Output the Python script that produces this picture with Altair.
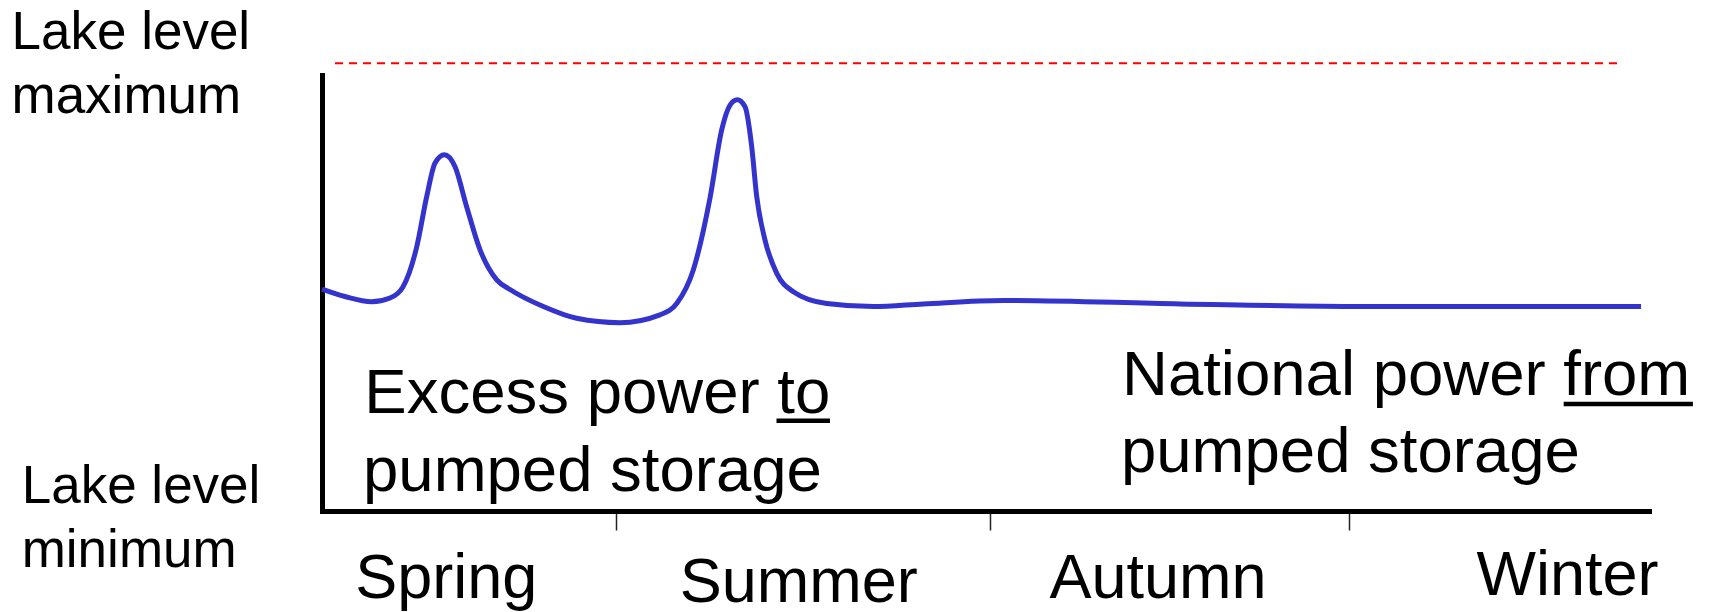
import altair as alt
import pandas as pd

# Lake level curve (x: share of the year in %, y: lake level in % between minimum and maximum)
curve_x = [0.0, 1.73, 3.75, 5.12, 6.10, 7.14, 7.89, 8.52, 9.22, 10.02, 10.90, 11.91,
           13.17, 14.17, 16.68, 19.19, 22.46, 25.47, 26.73, 27.98, 29.24, 30.12, 30.75,
           31.30, 31.88, 32.38, 32.76, 33.38, 34.27, 35.52, 38.03, 41.55, 45.31, 51.32,
           64.66, 78.45, 99.4]
curve_y = [50.9, 49.2, 48.0, 48.85, 51.4, 60.6, 72.1, 79.8, 81.7, 79.0, 69.8, 59.9,
           53.0, 50.8, 46.9, 44.2, 43.2, 45.0, 47.6, 55.3, 71.8, 87.4, 93.1,
           94.3, 92.7, 83.6, 72.1, 62.2, 54.5, 50.3, 47.6, 46.9, 47.5, 48.3,
           47.5, 46.9, 46.9]

# Season boundaries (axis ticks) and season names
tick_values = [22.12, 50.34, 77.43]
season_names = ["Spring", "Summer", "Autumn", "Winter"]
season_x = [9.37, 35.93, 63.0, 93.86]
season_y = [-20.02, -20.80, -20.02, -19.27]

# Maximum lake level (dashed line)
max_level = [102.7]
max_start = [0.98]
max_end = [97.66]

# Left-hand level labels
label_lines = ["Lake level", "maximum", "Lake level", "minimum"]
label_x = [-23.40, -23.40, -22.63, -22.63]
label_y = [105.89, 91.35, 1.90, -12.91]

# Annotations
note_lines = ["Excess power to", "pumped storage", "National power from", "pumped storage"]
note_x = [3.19, 3.09, 60.29, 60.21]
note_y = [22.41, 4.66, 26.61, 9.01]

# Underlines under "to" and "from"
underline_x1 = [34.25, 93.57]
underline_x2 = [38.28, 103.31]
underline_y = [20.71, 24.54]

FONT = "Liberation Sans"

xs = alt.Scale(domain=[0, 100], nice=False, zero=False)
ys = alt.Scale(domain=[0, 100], nice=False, zero=False)
xaxis = alt.Axis(title="", values=tick_values, labels=False, grid=False, domain=True,
                 domainColor="black", domainWidth=5, domainCap="square",
                 ticks=True, tickSize=19, tickWidth=1.5, tickColor="#222222")
yaxis = alt.Axis(title="", labels=False, grid=False, ticks=False, domain=True,
                 domainColor="black", domainWidth=5, domainCap="square")


def X(f):
    return alt.X(f, scale=xs, axis=xaxis)


def Y(f):
    return alt.Y(f, scale=ys, axis=yaxis)


curve_df = pd.DataFrame({"x": curve_x, "y": curve_y})
season_df = pd.DataFrame({"name": season_names, "x": season_x, "y": season_y})
max_df = pd.DataFrame({"x": max_start, "x2": max_end, "y": max_level})
label_df = pd.DataFrame({"text": label_lines, "x": label_x, "y": label_y})
note_df = pd.DataFrame({"text": note_lines, "x": note_x, "y": note_y})
ul_df = pd.DataFrame({"x": underline_x1, "x2": underline_x2, "y": underline_y})

curve = alt.Chart(curve_df).mark_line(
    color="#3434cc", strokeWidth=5, interpolate="monotone"
).encode(x=X("x:Q"), y=Y("y:Q"))

max_line = alt.Chart(max_df).mark_rule(
    color="#ff0000", strokeWidth=2, strokeDash=[8, 6]
).encode(x=X("x:Q"), x2="x2:Q", y=Y("y:Q"))

seasons = alt.Chart(season_df).mark_text(
    align="center", baseline="alphabetic", font=FONT, fontSize=63, color="black"
).encode(x=X("x:Q"), y=Y("y:Q"), text="name:N")

labels = alt.Chart(label_df).mark_text(
    align="left", baseline="alphabetic", font=FONT, fontSize=53, color="black"
).encode(x=X("x:Q"), y=Y("y:Q"), text="text:N")

notes = alt.Chart(note_df).mark_text(
    align="left", baseline="alphabetic", font=FONT, fontSize=63.5, color="black"
).encode(x=X("x:Q"), y=Y("y:Q"), text="text:N")

underlines = alt.Chart(ul_df).mark_rule(color="black", strokeWidth=4.5).encode(
    x=X("x:Q"), x2="x2:Q", y=Y("y:Q")
)

chart = alt.layer(curve, max_line, seasons, labels, notes, underlines).properties(
    width=1327,
    height=436,
    autosize=alt.AutoSizeParams(type="none"),
    padding={"left": 314, "top": 67, "right": 53, "bottom": 112},
    background="white",
).configure_view(strokeWidth=0)

chart.save("out.html", embed_options={"renderer": "svg", "actions": False})
